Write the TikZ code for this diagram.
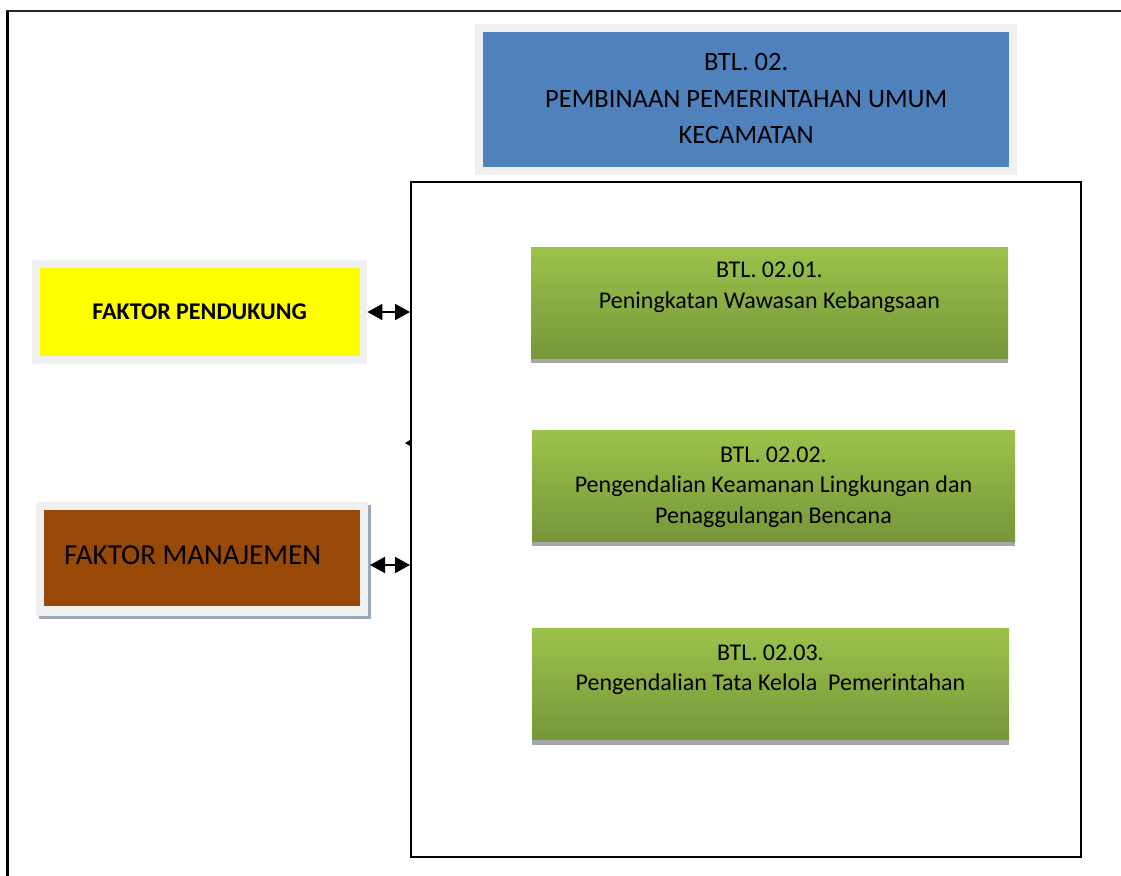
\documentclass[tikz,border=0pt]{standalone}
\usepackage{fontspec}
\setmainfont{Carlito}
\usetikzlibrary{arrows.meta,calc}
\definecolor{padgray}{HTML}{F0F0F0}
\definecolor{bluebox}{HTML}{4F81BD}
\definecolor{greentop}{HTML}{9BC34B}
\definecolor{greenbot}{HTML}{77963A}
\definecolor{brownbox}{HTML}{984807}
\definecolor{yellowbox}{HTML}{FFFF00}
\definecolor{shadowblue}{HTML}{9AA8B8}
\definecolor{shadowgray}{HTML}{A6A6A6}
\tikzset{
  padbox/.style={fill=padgray, draw=none, inner sep=0pt, anchor=north west},
  greenbox/.style={top color=greentop, bottom color=greenbot, draw=none, inner sep=0pt, anchor=north west, minimum width=#1, minimum height=111pt},
  gtext/.style={align=center, font=\fontsize{24}{30.5}\selectfont, inner sep=0pt, text=black},
  dblarrow/.style={{Triangle[length=15pt,width=16pt]}-{Triangle[length=15pt,width=16pt]}, line width=2pt, black},
  gshadow/.style={fill=shadowgray, draw=none}
}
\begin{document}
\begin{tikzpicture}[x=1pt,y=-1pt]
\useasboundingbox (0,0) rectangle (1121,875);
% outer frame (only left and top visible)
\draw[line width=3pt, black] (7,880) -- (7,11);
\draw[line width=2pt, black!85] (6,11) -- (1130,11);

% title box
\node[padbox, minimum width=542pt, minimum height=151pt] (bluepad) at (475,24) {};
\node[fill=bluebox, inner sep=0pt, anchor=north west, minimum width=526pt, minimum height=135pt] (blue) at (483,32) {};
\node[gtext, font=\fontsize{26.5}{36.5}\selectfont] (bluet) at ($(blue.center)+(0,-1)$) {BTL. 02.\\PEMBINAAN PEMERINTAHAN UMUM\\KECAMATAN};

% inner frame
\node[draw=black, line width=2pt, inner sep=0pt, anchor=north west, minimum width=670pt, minimum height=675pt] (frame) at (410,181) {};

% green boxes
\fill[gshadow] (531,300) rectangle (1008,363);
\node[greenbox=477pt] (g1) at (531,247) {};
\node[gtext] (g1t) at (769.5,287.5) {BTL. 02.01.\\Peningkatan Wawasan Kebangsaan};

\fill[gshadow] (532,480) rectangle (1015,546);
\node[greenbox=483pt] (g2) at (532,430) {};
\node[gtext] (g2t) at (773.5,487) {BTL. 02.02.\\Pengendalian Keamanan Lingkungan dan\\Penaggulangan Bencana};

\fill[gshadow] (532,680) rectangle (1009,745);
\node[greenbox=477pt] (g3) at (532,628) {};
\node[gtext] (g3t) at (770.5,670) {BTL. 02.03.\\Pengendalian Tata Kelola\ \ Pemerintahan};

% faktor pendukung
\node[padbox, minimum width=335pt, minimum height=104pt] (ypad) at (32,260) {};
\node[fill=yellowbox, inner sep=0pt, anchor=north west, minimum width=320pt, minimum height=88pt, font=\bfseries\fontsize{24}{28}\selectfont] (yel) at (39.5,268) {FAKTOR PENDUKUNG};

% faktor manajemen
\fill[shadowblue] (39,505) rectangle (371,619);
\node[padbox, minimum width=332pt, minimum height=114pt] (bpad) at (36,502) {};
\node[fill=brownbox, inner sep=0pt, anchor=north west, minimum width=316pt, minimum height=96pt] (brn) at (43.5,510) {};
\node[anchor=west, inner sep=0pt, font=\fontsize{29}{34}\selectfont] (brnt) at (64,555) {FAKTOR MANAJEMEN};

% connectors
\coordinate (ya) at (frame.west |- 0,312);
\draw[dblarrow] (ypad.east |- ya) -- (ya);
\coordinate (ba) at (frame.west |- 0,565);
\draw[dblarrow] (370,565) -- (ba);

% small stub on frame
\coordinate (stub) at (frame.west |- 0,443);
\fill[black] ($(stub)+(0,-3)$) -- ($(stub)+(-5,0)$) -- ($(stub)+(0,3)$) -- cycle;
\end{tikzpicture}
\end{document}
